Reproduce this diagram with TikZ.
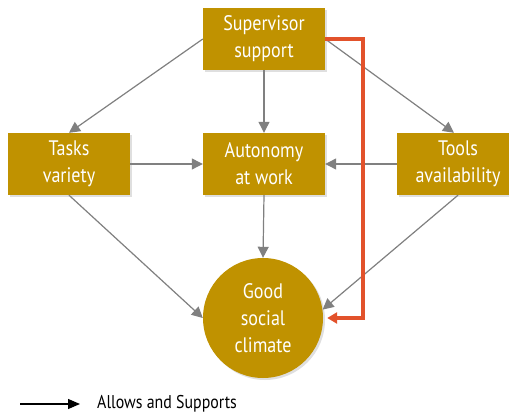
\documentclass[tikz,border=0pt]{standalone}
\usepackage{fontspec}
\setmainfont[FakeStretch=0.86]{PT Sans}
\usetikzlibrary{positioning,arrows.meta,shadows}
\definecolor{boxgold}{RGB}{192,146,0}
\definecolor{supportred}{RGB}{226,82,43}
\definecolor{linkgray}{RGB}{128,128,128}
\tikzset{
	factor/.style={fill=boxgold, text=white, align=center, inner sep=0pt,
		minimum width=122pt, minimum height=62pt,
		font=\fontsize{21}{27}\selectfont,
		drop shadow={opacity=0.25, shadow xshift=2pt, shadow yshift=-2pt}},
	goal/.style={factor, circle, minimum size=120pt},
	link/.style={draw=linkgray, line width=1.2pt, -{Triangle[length=11pt,width=11pt]}},
}
\begin{document}
\begin{tikzpicture}[x=1pt, y=-1pt]
		\clip (0,0) rectangle (509,414);
		\fill[white] (0,0) rectangle (509,414);
		% Define nodes
		\node[factor] (super) at (264,39) {Supervisor\\support};
		\node[factor] (tasks) at (69,164) {Tasks\\variety};
		\node[factor] (auto) at (264,164) {Autonomy\\at work};
		\node[factor] (tools) at (458,164) {Tools\\availability};
		\node[goal] (climate) at (263,318) {Good\\social\\climate};
		
		% Draw edges
		\draw[link] (super.west) -- (tasks.north); \draw[link] (super.south) -- (auto.north);
		\draw[link] (super.east) -- ([xshift=-4pt]tools.north);
		\draw[link] (tasks.east) -- (auto.west); \draw[link] (tools.west) -- (auto.east);
		\draw[link] (tasks.south) -- (climate.west); \draw[link] (auto.south) -- (climate.north);
		\draw[link] (tools.south) -- (climate.8);
		\draw[supportred, line width=3.5pt, -{Triangle[length=10pt,width=11pt]}]
		(super.east) -- ++(38,0) |- ([xshift=4pt]climate.east);
		
		% Legend
		\coordinate (legstart) at (20,404);
		\node[right, inner sep=0pt, font=\fontsize{18.5}{22}\selectfont] (legtext) at (97,404) {Allows and Supports};
		\draw[line width=1.2pt, -{Triangle[length=12pt,width=10pt]}] (legstart) -- ([xshift=-17pt]legtext.west);
	\end{tikzpicture}
\end{document}
